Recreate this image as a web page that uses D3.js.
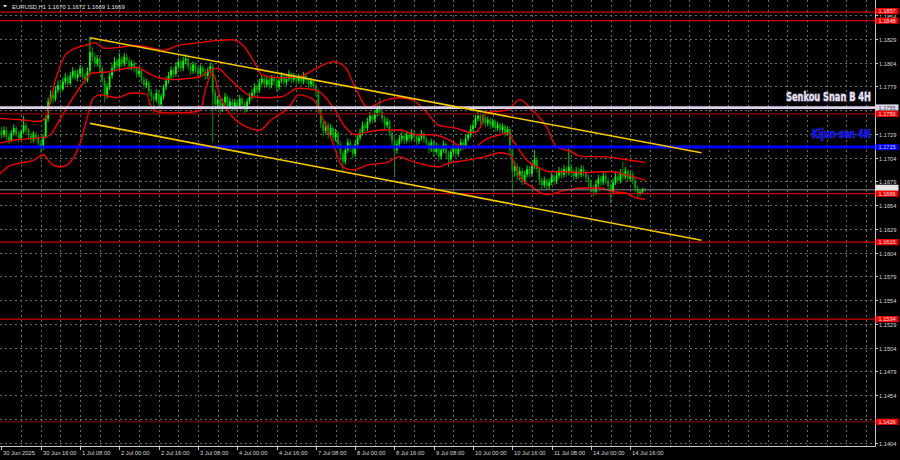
<!DOCTYPE html>
<html><head><meta charset="utf-8">
<script src="https://cdn.jsdelivr.net/npm/d3@7"></script>
<style>html,body{margin:0;padding:0;background:#000;overflow:hidden}svg{display:block}</style>
</head><body><svg id="c" width="900" height="460"></svg>
<script>
// ---------- DATA (EURUSD H1, bar index 0 = 30 Jun 2025 00:00) ----------
const opens = [
1.1732,1.1728,1.1733,1.1726,1.1722,1.1730,1.1735,1.1729,1.1724,1.1731,
1.1738,1.1733,1.1727,1.1723,1.1729,1.1725,1.1719,1.1714,1.1726,1.1745,
1.1763,1.1770,1.1766,1.1775,1.1780,1.1776,1.1784,1.1788,1.1782,1.1790,
1.1795,1.1788,1.1792,1.1798,1.1790,1.1785,1.1795,1.1815,1.1810,1.1803,
1.1808,1.1798,1.1785,1.1770,1.1778,1.1790,1.1798,1.1805,1.1800,1.1808,
1.1803,1.1810,1.1806,1.1800,1.1803,1.1798,1.1792,1.1795,1.1786,1.1780,
1.1783,1.1773,1.1768,1.1765,1.1772,1.1760,1.1768,1.1778,1.1785,1.1790,
1.1796,1.1792,1.1800,1.1805,1.1798,1.1806,1.1808,1.1800,1.1795,1.1802,
1.1797,1.1792,1.1799,1.1794,1.1790,1.1796,1.1800,1.1772,1.1760,1.1765,
1.1755,1.1762,1.1768,1.1758,1.1763,1.1757,1.1762,1.1758,1.1766,1.1760,
1.1755,1.1763,1.1768,1.1772,1.1778,1.1775,1.1783,1.1787,1.1781,1.1786,
1.1780,1.1788,1.1784,1.1778,1.1785,1.1790,1.1783,1.1787,1.1792,1.1786,
1.1790,1.1785,1.1788,1.1784,1.1790,1.1786,1.1781,1.1785,1.1779,1.1774,
1.1755,1.1740,1.1732,1.1738,1.1728,1.1735,1.1725,1.1730,1.1718,1.1708,
1.1700,1.1712,1.1720,1.1714,1.1708,1.1718,1.1725,1.1730,1.1738,1.1735,
1.1742,1.1748,1.1744,1.1750,1.1755,1.1752,1.1745,1.1738,1.1742,1.1730,
1.1722,1.1712,1.1718,1.1724,1.1727,1.1722,1.1728,1.1724,1.1730,1.1726,
1.1721,1.1725,1.1729,1.1723,1.1719,1.1713,1.1720,1.1710,1.1716,1.1705,
1.1712,1.1718,1.1708,1.1702,1.1710,1.1715,1.1708,1.1714,1.1720,1.1716,
1.1724,1.1728,1.1734,1.1738,1.1745,1.1748,1.1742,1.1746,1.1740,1.1744,
1.1738,1.1742,1.1735,1.1739,1.1733,1.1737,1.1730,1.1734,1.1712,1.1690,
1.1695,1.1685,1.1690,1.1680,1.1686,1.1692,1.1687,1.1695,1.1702,1.1692,
1.1680,1.1675,1.1680,1.1674,1.1678,1.1684,1.1679,1.1685,1.1690,1.1686,
1.1692,1.1688,1.1694,1.1689,1.1684,1.1690,1.1686,1.1692,1.1688,1.1683,
1.1678,1.1672,1.1668,1.1676,1.1682,1.1678,1.1685,1.1680,1.1674,1.1668,
1.1678,1.1684,1.1680,1.1688,1.1684,1.1690,1.1682,1.1686,1.1680,1.1672,
1.1666,1.1668,1.1670];
const highs = [
1.1736,1.1737,1.1736,1.1729,1.1733,1.1739,1.1737,1.1732,1.1734,1.1748,
1.1741,1.1735,1.1730,1.1732,1.1731,1.1728,1.1722,1.1729,1.1748,1.1767,
1.1775,1.1773,1.1779,1.1785,1.1783,1.1788,1.1793,1.1791,1.1794,1.1799,
1.1797,1.1796,1.1801,1.1800,1.1793,1.1799,1.1831,1.1820,1.1814,1.1812,
1.1810,1.1800,1.1788,1.1782,1.1793,1.1802,1.1810,1.1808,1.1814,1.1811,
1.1814,1.1813,1.1809,1.1807,1.1806,1.1800,1.1799,1.1797,1.1789,1.1787,
1.1785,1.1776,1.1771,1.1776,1.1775,1.1771,1.1781,1.1789,1.1794,1.1800,
1.1799,1.1804,1.1809,1.1807,1.1810,1.1813,1.1810,1.1803,1.1805,1.1804,
1.1800,1.1802,1.1801,1.1797,1.1799,1.1804,1.1803,1.1776,1.1769,1.1768,
1.1766,1.1772,1.1770,1.1767,1.1766,1.1766,1.1765,1.1770,1.1768,1.1763,
1.1766,1.1772,1.1776,1.1782,1.1781,1.1787,1.1791,1.1790,1.1790,1.1789,
1.1791,1.1791,1.1787,1.1788,1.1794,1.1792,1.1791,1.1796,1.1794,1.1793,
1.1792,1.1792,1.1791,1.1794,1.1793,1.1788,1.1788,1.1787,1.1782,1.1776,
1.1758,1.1743,1.1742,1.1741,1.1739,1.1737,1.1734,1.1732,1.1721,1.1711,
1.1716,1.1724,1.1723,1.1717,1.1722,1.1729,1.1734,1.1742,1.1741,1.1746,
1.1752,1.1751,1.1754,1.1759,1.1767,1.1755,1.1748,1.1746,1.1744,1.1733,
1.1725,1.1722,1.1728,1.1731,1.1730,1.1732,1.1731,1.1734,1.1733,1.1729,
1.1729,1.1733,1.1731,1.1726,1.1722,1.1724,1.1722,1.1720,1.1718,1.1716,
1.1722,1.1720,1.1711,1.1714,1.1719,1.1718,1.1718,1.1724,1.1723,1.1728,
1.1732,1.1738,1.1742,1.1749,1.1754,1.1751,1.1750,1.1749,1.1747,1.1746,
1.1745,1.1744,1.1742,1.1741,1.1740,1.1739,1.1737,1.1736,1.1714,1.1700,
1.1698,1.1694,1.1693,1.1690,1.1696,1.1695,1.1699,1.1712,1.1705,1.1694,
1.1683,1.1684,1.1682,1.1682,1.1688,1.1687,1.1689,1.1694,1.1693,1.1696,
1.1695,1.1715,1.1697,1.1692,1.1694,1.1693,1.1696,1.1695,1.1691,1.1686,
1.1681,1.1675,1.1680,1.1686,1.1685,1.1689,1.1688,1.1683,1.1677,1.1682,
1.1688,1.1687,1.1692,1.1700,1.1694,1.1692,1.1690,1.1689,1.1683,1.1675,
1.1671,1.1672,1.1672];
const lows = [
1.1724,1.1725,1.1722,1.1718,1.1720,1.1727,1.1726,1.1720,1.1722,1.1729,
1.1730,1.1724,1.1719,1.1720,1.1721,1.1715,1.1709,1.1712,1.1724,1.1742,
1.1760,1.1761,1.1763,1.1772,1.1771,1.1774,1.1781,1.1778,1.1780,1.1787,
1.1785,1.1784,1.1789,1.1786,1.1781,1.1783,1.1792,1.1805,1.1799,1.1800,
1.1794,1.1780,1.1762,1.1766,1.1775,1.1787,1.1795,1.1796,1.1797,1.1799,
1.1800,1.1802,1.1796,1.1796,1.1794,1.1788,1.1789,1.1782,1.1776,1.1777,
1.1769,1.1763,1.1751,1.1762,1.1756,1.1757,1.1765,1.1775,1.1782,1.1787,
1.1788,1.1789,1.1797,1.1794,1.1795,1.1802,1.1796,1.1791,1.1792,1.1793,
1.1788,1.1789,1.1790,1.1786,1.1787,1.1793,1.1720,1.1754,1.1756,1.1749,
1.1752,1.1759,1.1754,1.1755,1.1753,1.1754,1.1754,1.1755,1.1756,1.1750,
1.1752,1.1760,1.1765,1.1769,1.1771,1.1772,1.1780,1.1777,1.1778,1.1776,
1.1777,1.1780,1.1774,1.1775,1.1782,1.1779,1.1780,1.1784,1.1782,1.1783,
1.1781,1.1782,1.1780,1.1781,1.1782,1.1777,1.1778,1.1775,1.1769,1.1750,
1.1735,1.1726,1.1729,1.1724,1.1725,1.1720,1.1721,1.1713,1.1702,1.1690,
1.1697,1.1709,1.1710,1.1703,1.1705,1.1715,1.1722,1.1727,1.1731,1.1732,
1.1739,1.1740,1.1741,1.1747,1.1748,1.1741,1.1734,1.1735,1.1726,1.1717,
1.1686,1.1708,1.1715,1.1720,1.1718,1.1719,1.1720,1.1721,1.1722,1.1717,
1.1718,1.1722,1.1719,1.1715,1.1708,1.1710,1.1705,1.1707,1.1700,1.1702,
1.1709,1.1703,1.1694,1.1699,1.1707,1.1704,1.1705,1.1711,1.1712,1.1713,
1.1721,1.1725,1.1731,1.1735,1.1742,1.1738,1.1739,1.1736,1.1737,1.1734,
1.1735,1.1731,1.1732,1.1729,1.1730,1.1726,1.1727,1.1707,1.1665,1.1684,
1.1680,1.1680,1.1675,1.1676,1.1683,1.1683,1.1684,1.1692,1.1688,1.1675,
1.1670,1.1672,1.1670,1.1671,1.1675,1.1675,1.1676,1.1682,1.1682,1.1683,
1.1684,1.1685,1.1685,1.1680,1.1681,1.1682,1.1683,1.1684,1.1679,1.1673,
1.1667,1.1663,1.1665,1.1673,1.1674,1.1675,1.1676,1.1670,1.1656,1.1665,
1.1675,1.1676,1.1677,1.1680,1.1681,1.1678,1.1679,1.1676,1.1668,1.1662,
1.1664,1.1666,1.1669];
const closes = [
1.1728,1.1733,1.1726,1.1722,1.1730,1.1735,1.1729,1.1724,1.1731,1.1738,
1.1733,1.1727,1.1723,1.1729,1.1725,1.1719,1.1714,1.1726,1.1745,1.1763,
1.1770,1.1766,1.1775,1.1780,1.1776,1.1784,1.1788,1.1782,1.1790,1.1795,
1.1788,1.1792,1.1798,1.1790,1.1785,1.1795,1.1815,1.1810,1.1803,1.1808,
1.1798,1.1785,1.1770,1.1778,1.1790,1.1798,1.1805,1.1800,1.1808,1.1803,
1.1810,1.1806,1.1800,1.1803,1.1798,1.1792,1.1795,1.1786,1.1780,1.1783,
1.1773,1.1768,1.1765,1.1772,1.1760,1.1768,1.1778,1.1785,1.1790,1.1796,
1.1792,1.1800,1.1805,1.1798,1.1806,1.1808,1.1800,1.1795,1.1802,1.1797,
1.1792,1.1799,1.1794,1.1790,1.1796,1.1800,1.1772,1.1760,1.1765,1.1755,
1.1762,1.1768,1.1758,1.1763,1.1757,1.1762,1.1758,1.1766,1.1760,1.1755,
1.1763,1.1768,1.1772,1.1778,1.1775,1.1783,1.1787,1.1781,1.1786,1.1780,
1.1788,1.1784,1.1778,1.1785,1.1790,1.1783,1.1787,1.1792,1.1786,1.1790,
1.1785,1.1788,1.1784,1.1790,1.1786,1.1781,1.1785,1.1779,1.1774,1.1755,
1.1740,1.1732,1.1738,1.1728,1.1735,1.1725,1.1730,1.1718,1.1708,1.1700,
1.1712,1.1720,1.1714,1.1708,1.1718,1.1725,1.1730,1.1738,1.1735,1.1742,
1.1748,1.1744,1.1750,1.1755,1.1752,1.1745,1.1738,1.1742,1.1730,1.1722,
1.1712,1.1718,1.1724,1.1727,1.1722,1.1728,1.1724,1.1730,1.1726,1.1721,
1.1725,1.1729,1.1723,1.1719,1.1713,1.1720,1.1710,1.1716,1.1705,1.1712,
1.1718,1.1708,1.1702,1.1710,1.1715,1.1708,1.1714,1.1720,1.1716,1.1724,
1.1728,1.1734,1.1738,1.1745,1.1748,1.1742,1.1746,1.1740,1.1744,1.1738,
1.1742,1.1735,1.1739,1.1733,1.1737,1.1730,1.1734,1.1712,1.1690,1.1695,
1.1685,1.1690,1.1680,1.1686,1.1692,1.1687,1.1695,1.1702,1.1692,1.1680,
1.1675,1.1680,1.1674,1.1678,1.1684,1.1679,1.1685,1.1690,1.1686,1.1692,
1.1688,1.1694,1.1689,1.1684,1.1690,1.1686,1.1692,1.1688,1.1683,1.1678,
1.1672,1.1668,1.1676,1.1682,1.1678,1.1685,1.1680,1.1674,1.1668,1.1678,
1.1684,1.1680,1.1688,1.1684,1.1690,1.1682,1.1686,1.1680,1.1672,1.1666,
1.1668,1.1670,1.1669];

// Bollinger-type red bands (bar index, price)
const upperBars = [-1,7,15,18,20,22,24,26,30,34,38,42,48,54,60,66,72,81,87,94,99,103,106,113,121,129,135,140,144,149,157,162,167,173,178,185,192,195,197,206,211,216,222,226,230,237,244,254,262];
const upperVals = [1.1745,1.1744,1.1742,1.1746,1.1765,1.1786,1.1801,1.1812,1.1819,1.1822,1.1825,1.1819,1.1820,1.1822,1.1820,1.1817,1.1822,1.1825,1.1827,1.1828,1.1820,1.1804,1.1791,1.1788,1.1789,1.1799,1.1805,1.1799,1.1778,1.1757,1.1765,1.1767,1.1765,1.1752,1.1738,1.1735,1.1730,1.1736,1.1751,1.1754,1.1765,1.1754,1.1736,1.1715,1.1712,1.1705,1.1705,1.1702,1.1699];
const middleBars = [-1,7,17,20,22,26,32,37,43,51,55,59,64,70,75,81,85,88,92,97,102,108,114,121,128,135,140,144,149,155,162,169,175,182,186,192,197,203,206,208,214,219,224,230,237,244,249,254,262];
const middleVals = [1.1719,1.1723,1.1725,1.1728,1.1736,1.1754,1.1778,1.1793,1.1794,1.1798,1.1799,1.1794,1.1788,1.1786,1.1787,1.1789,1.1796,1.1798,1.1789,1.1777,1.1768,1.1767,1.1768,1.1777,1.1775,1.1757,1.1736,1.1728,1.1731,1.1733,1.1733,1.1728,1.1728,1.1723,1.1717,1.1714,1.1723,1.1728,1.1730,1.1723,1.1701,1.1693,1.1689,1.1689,1.1688,1.1689,1.1689,1.1686,1.1680];
const lowerBars = [-1,3,7,13,17,20,24,28,32,35,37,40,47,53,59,61,64,70,78,81,83,86,89,94,100,105,110,117,121,127,131,135,139,143,149,157,162,166,173,178,182,189,197,203,207,211,216,222,226,230,238,244,249,254,258,262];
const lowerVals = [1.1686,1.1695,1.1698,1.1701,1.1707,1.1698,1.1694,1.1699,1.1719,1.1747,1.1765,1.1770,1.1767,1.1772,1.1771,1.1757,1.1752,1.1751,1.1752,1.1754,1.1775,1.1793,1.1768,1.1747,1.1736,1.1733,1.1744,1.1757,1.1770,1.1765,1.1744,1.1719,1.1694,1.1691,1.1696,1.1699,1.1705,1.1701,1.1696,1.1694,1.1698,1.1701,1.1705,1.1709,1.1707,1.1684,1.1673,1.1665,1.1667,1.1670,1.1672,1.1672,1.1668,1.1667,1.1662,1.1660];

// descending channel (bar index, price)
const channelTop = [[36, 1.1830], [285, 1.1709]];
const channelBottom = [[36, 1.1740], [285, 1.1617]];

// horizontal levels
const redLevels = [1.1857, 1.1848, 1.1750, 1.1666, 1.1615, 1.1534, 1.1426];
const redLevelDark = [false, false, true, false, false, false, true];
const senkouB = 1.1755;
const kijun = 1.1715;
const bidPrice = 1.1669;

// axis tick labels (1.1754 and 1.1429 sit under level boxes and are hidden)
const priceTicks = ["1.1854","1.1829","1.1804","1.1779","1.1754","1.1729","1.1704","1.1679","1.1654","1.1629","1.1604","1.1579","1.1554","1.1529","1.1504","1.1479","1.1454","1.1429","1.1404"];
const hiddenTicks = ["1.1754","1.1429"];
const timeLabels = ["30 Jun 2025","30 Jun 16:00","1 Jul 08:00","2 Jul 00:00","2 Jul 16:00","3 Jul 08:00","4 Jul 00:00","4 Jul 16:00","7 Jul 08:00","8 Jul 00:00","8 Jul 16:00","9 Jul 08:00","10 Jul 00:00","10 Jul 16:00","11 Jul 08:00","14 Jul 00:00","14 Jul 16:00"];
const timeLabelBars = [0,16,32,48,64,80,96,112,128,144,160,176,192,208,224,240,256];
const title = "EURUSD,H1  1.1670 1.1672 1.1669 1.1669";

// ---------- DRAW ----------
const plotR = 875, plotB = 446;
const svg = d3.select("#c");
const x = d3.scaleLinear().domain([-0.61, 355.66]).range([0, plotR]);
const y = d3.scaleLinear().domain([1.14005, 1.18698]).range([plotB, 0]);
const FONT = "'Liberation Sans', Arial, sans-serif";

svg.append("rect").attr("width", 900).attr("height", 460).attr("fill", "#000");
svg.append("defs").append("clipPath").attr("id", "clip")
  .append("rect").attr("x", 0).attr("y", 0).attr("width", plotR).attr("height", plotB);

const plot = svg.append("g").attr("clip-path", "url(#clip)");

// grid
const gridColor = "#6a6a6a";
plot.append("g").selectAll("line").data(priceTicks).join("line")
  .attr("x1", 0).attr("x2", plotR)
  .attr("y1", d => Math.round(y(+d)) + 0.5).attr("y2", d => Math.round(y(+d)) + 0.5)
  .attr("stroke", gridColor).attr("stroke-width", 1).attr("stroke-dasharray", "2,3");
plot.append("g").selectAll("line").data(d3.range(8, 356, 8)).join("line")
  .attr("x1", d => Math.round(x(d)) + 0.5).attr("x2", d => Math.round(x(d)) + 0.5)
  .attr("y1", 0).attr("y2", plotB)
  .attr("stroke", gridColor).attr("stroke-width", 1).attr("stroke-dasharray", "2,3");

// candles
const bars = d3.range(closes.length);
const bull = "#00ff00", bear = "#00a000";
const cg = plot.append("g");
cg.selectAll("line.wick").data(bars).join("line").attr("class", "wick")
  .attr("x1", i => x(i)).attr("x2", i => x(i))
  .attr("y1", i => y(highs[i])).attr("y2", i => y(lows[i]))
  .attr("stroke", i => closes[i] >= opens[i] ? bull : bear).attr("stroke-width", 0.9);
cg.selectAll("rect.body").data(bars).join("rect").attr("class", "body")
  .attr("x", i => x(i) - 0.9).attr("width", 1.8)
  .attr("y", i => y(Math.max(opens[i], closes[i])))
  .attr("height", i => Math.max(0.8, Math.abs(y(opens[i]) - y(closes[i]))))
  .attr("fill", i => closes[i] >= opens[i] ? bull : bear);

// bands
const bandLine = d3.line().x(d => x(d[0])).y(d => y(d[1])).curve(d3.curveMonotoneX);
[[upperBars, upperVals], [middleBars, middleVals], [lowerBars, lowerVals]].forEach(([b, v]) => {
  plot.append("path").datum(b.map((bi, k) => [bi, v[k]]))
    .attr("d", bandLine).attr("fill", "none").attr("stroke", "#f00000").attr("stroke-width", 1.4);
});

// level lines
redLevels.forEach((p, k) => {
  plot.append("line").attr("x1", 0).attr("x2", plotR)
    .attr("y1", y(p)).attr("y2", y(p))
    .attr("stroke", redLevelDark[k] ? "#8a0000" : "#d00000").attr("stroke-width", 1.2);
});
plot.append("line").attr("x1", 0).attr("x2", plotR).attr("y1", y(bidPrice) - 1).attr("y2", y(bidPrice) - 1)
  .attr("stroke", "#8c8c8c").attr("stroke-width", 1);
plot.append("line").attr("x1", 0).attr("x2", plotR).attr("y1", y(senkouB) - 1.5).attr("y2", y(senkouB) - 1.5)
  .attr("stroke", "#dcd3ea").attr("stroke-width", 2.6);
plot.append("line").attr("x1", 0).attr("x2", plotR).attr("y1", y(kijun)).attr("y2", y(kijun))
  .attr("stroke", "#0000ff").attr("stroke-width", 3);

// channel
[channelTop, channelBottom].forEach(c => {
  plot.append("line")
    .attr("x1", x(c[0][0])).attr("y1", y(c[0][1]))
    .attr("x2", x(c[1][0])).attr("y2", y(c[1][1]))
    .attr("stroke", "#f5c800").attr("stroke-width", 1.6);
});

// annotations (horizontally condensed to the reference width)
function condensedLabel(txt, x0, base, width, fill, stroke, sw) {
  const t = svg.append("text").attr("x", 0).attr("y", 0).text(txt)
    .attr("font-family", "'DejaVu Sans Condensed','Liberation Sans Narrow','Liberation Sans',sans-serif")
    .attr("font-weight", "bold").attr("font-size", 12.5)
    .attr("fill", fill).attr("stroke", stroke).attr("stroke-width", sw)
    .attr("paint-order", "stroke");
  const len = t.node().getComputedTextLength();
  t.attr("transform", `translate(${x0},${base}) scale(${width / len},1)`);
}
condensedLabel("Senkou Snan B 4H", 786, 101, 85, "#ece8f6", "#55506a", 1.6);
condensedLabel("Kijun-sen 4H", 812, 138, 59, "#1010ff", "#4848b0", 0.6);

// frame
svg.append("line").attr("x1", plotR + 0.5).attr("x2", plotR + 0.5).attr("y1", 0).attr("y2", plotB + 0.5)
  .attr("stroke", "#c8c8c8").attr("stroke-width", 1);
svg.append("line").attr("x1", 0).attr("x2", plotR + 0.5).attr("y1", plotB + 0.5).attr("y2", plotB + 0.5)
  .attr("stroke", "#c8c8c8").attr("stroke-width", 1);

// right price axis
const axisText = "#d6d6d6";
const ya = svg.append("g");
priceTicks.forEach((t, k) => {
  const yy = Math.round(y(+t)) + 0.5;
  ya.append("line").attr("x1", plotR).attr("x2", plotR + 3).attr("y1", yy).attr("y2", yy).attr("stroke", "#c8c8c8");
  if (hiddenTicks.includes(t)) return;
  // the topmost label peeks out just below the 1.1857 box
  ya.append("text").attr("x", 879).attr("y", yy + (k === 0 ? 3.6 : 2.1)).text(t)
    .attr("font-family", FONT).attr("font-size", 5.7).attr("fill", axisText);
});

function priceBox(p, yy, bg, fg, withText) {
  svg.append("rect").attr("x", plotR + 0.5).attr("y", yy - 3.1).attr("width", 23).attr("height", 6.2).attr("fill", bg);
  if (withText) svg.append("text").attr("x", 878.5).attr("y", yy + 2).text(p.toFixed(4))
    .attr("font-family", FONT).attr("font-size", 5.6).attr("fill", fg);
}
priceBox(bidPrice, y(bidPrice) - 3, "#e4e4e4", "#000", false);
priceBox(senkouB, y(senkouB) - 1.6, "#dcd4ea", "#505050", true);
priceBox(kijun, y(kijun), "#0000ff", "#d0d0ff", true);
redLevels.forEach((p, k) => priceBox(p, y(p) - (k === 0 ? 1 : 0), "#f20000", "#ffe8e8", true));

// bottom time axis
timeLabelBars.forEach((b, k) => {
  const xx = Math.round(x(b)) + 0.5;
  svg.append("line").attr("x1", xx).attr("x2", xx).attr("y1", plotB).attr("y2", plotB + 4).attr("stroke", "#c8c8c8");
  svg.append("text").attr("x", xx + 1.5).attr("y", 455).text(timeLabels[k])
    .attr("font-family", FONT).attr("font-size", 5.8).attr("fill", axisText);
});

// title
svg.append("path").attr("d", "M3,5 L7,5 L5,7.5 Z").attr("fill", "#e0e0e0");
svg.append("text").attr("x", 12).attr("y", 8.6).text(title)
  .attr("font-family", FONT).attr("font-size", 5.9).attr("fill", "#e0e0e0");
</script>
</body></html>
